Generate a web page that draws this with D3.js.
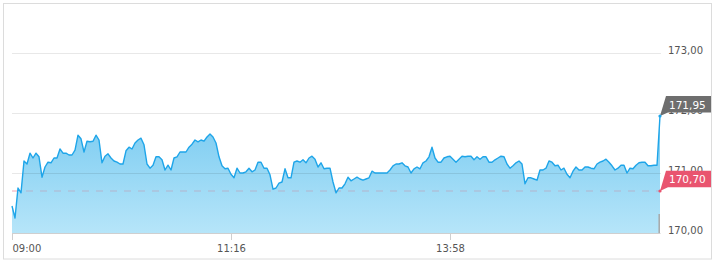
<!DOCTYPE html>
<html>
<head>
<meta charset="utf-8">
<script src="https://cdn.jsdelivr.net/npm/d3@7"></script>
<style>
  body { margin: 0; background: #fff; }
  text { font-family: "DejaVu Sans", Verdana, sans-serif; }
</style>
</head>
<body>
<div id="chart"></div>
<script>

// intraday prices, one reading per step from 09:00 to the close
var prices = [
  170.45, 170.25, 170.75, 170.67, 171.20, 171.15, 171.33, 171.25, 171.33, 171.27,
  170.93, 171.10, 171.18, 171.17, 171.25, 171.25, 171.40, 171.33, 171.33, 171.30,
  171.30, 171.38, 171.63, 171.57, 171.35, 171.53, 171.52, 171.53, 171.63, 171.55,
  171.17, 171.28, 171.32, 171.25, 171.20, 171.18, 171.15, 171.15, 171.37, 171.43,
  171.40, 171.50, 171.55, 171.58, 171.47, 171.15, 171.08, 171.13, 171.27, 171.27,
  171.22, 171.05, 171.13, 171.05, 171.25, 171.27, 171.35, 171.35, 171.35, 171.43,
  171.48, 171.55, 171.52, 171.55, 171.53, 171.60, 171.65, 171.60, 171.50, 171.27,
  171.12, 171.07, 171.08, 170.98, 170.92, 171.08, 171.00, 171.00, 171.02, 171.08,
  171.02, 171.05, 171.18, 171.18, 171.08, 171.08, 170.97, 170.73, 170.75, 170.83,
  170.85, 171.07, 170.92, 170.92, 171.18, 171.20, 171.18, 171.22, 171.17, 171.25,
  171.28, 171.23, 171.10, 171.17, 171.07, 171.08, 171.08, 170.85, 170.67, 170.75,
  170.75, 170.82, 170.93, 170.87, 170.90, 170.93, 170.90, 170.88, 170.90, 170.92,
  171.03, 171.00, 171.00, 171.00, 171.00, 171.00, 171.05, 171.12, 171.15, 171.15,
  171.17, 171.12, 171.10, 171.00, 171.07, 171.10, 171.07, 171.17, 171.20, 171.27,
  171.43, 171.25, 171.18, 171.18, 171.25, 171.27, 171.28, 171.23, 171.18, 171.23,
  171.28, 171.27, 171.28, 171.28, 171.22, 171.27, 171.23, 171.27, 171.27, 171.18,
  171.18, 171.22, 171.25, 171.28, 171.27, 171.15, 171.08, 171.12, 171.17, 171.20,
  171.15, 170.82, 170.92, 170.92, 170.90, 170.88, 171.05, 171.05, 171.08, 171.20,
  171.18, 171.12, 171.13, 171.05, 171.08, 170.98, 170.92, 171.03, 171.10, 171.05,
  171.05, 171.10, 171.10, 171.08, 171.07, 171.15, 171.18, 171.20, 171.23, 171.18,
  171.12, 171.05, 171.08, 171.13, 171.13, 171.00, 171.08, 171.07, 171.13, 171.17,
  171.18, 171.18, 171.12, 171.12, 171.13, 171.13, 171.95
];

var prevClose = 170.70;
var lastPrice = 171.95;

var priceTicks = [170, 171, 172, 173];
var timeTickIndex = [0, 73, 146];
var timeTickLabels = ["09:00", "11:16", "13:58"];

var width = 716, height = 260;
var plot = {left: 12, right: 660, top: 53, bottom: 233};

var fmt = d3.formatLocale({decimal: ",", thousands: ".", grouping: [3], currency: ["", "€"]}).format(".2f");

var svg = d3.select("#chart").append("svg")
    .attr("width", width)
    .attr("height", height);

// frame
svg.append("rect")
    .attr("x", 3.5).attr("y", 3.5)
    .attr("width", 708).attr("height", 255.5)
    .attr("fill", "none")
    .attr("stroke", "#dcdcdc");

var x = d3.scaleLinear()
    .domain([0, prices.length - 1])
    .range([plot.left, plot.right]);

var y = d3.scaleLinear()
    .domain([170, 173])
    .range([plot.bottom, plot.top]);

var defs = svg.append("defs");
var grad = defs.append("linearGradient")
    .attr("id", "fillGrad")
    .attr("gradientUnits", "userSpaceOnUse")
    .attr("x1", 0).attr("x2", 0)
    .attr("y1", y(171.65)).attr("y2", y(170));
grad.append("stop").attr("offset", "0%").attr("stop-color", "#83cff2");
grad.append("stop").attr("offset", "100%").attr("stop-color", "#b6e5f9");

// area + line
var area = d3.area()
    .x(function(d, i){ return x(i); })
    .y0(y(170))
    .y1(function(d){ return y(d); });

var line = d3.line()
    .x(function(d, i){ return x(i); })
    .y(function(d){ return y(d); });

svg.append("path")
    .datum(prices)
    .attr("d", area)
    .attr("fill", "url(#fillGrad)");

// horizontal grid, drawn over the fill
svg.append("g").attr("class", "grid")
    .selectAll("line")
    .data(priceTicks.slice(1))
    .enter()
    .append("line")
    .attr("x1", plot.left)
    .attr("x2", plot.right + 1)
    .attr("y1", function(d){ return Math.round(y(d)) + 0.5; })
    .attr("y2", function(d){ return Math.round(y(d)) + 0.5; })
    .attr("stroke", "rgba(0,0,0,0.09)");

// previous close
svg.append("line")
    .attr("x1", plot.left + 14).attr("x2", plot.right)
    .attr("y1", y(prevClose)).attr("y2", y(prevClose))
    .attr("stroke", "#b3b3cc")
    .attr("stroke-width", 1.2)
    .attr("stroke-dasharray", "7,7");
svg.append("line")
    .attr("x1", plot.left).attr("x2", plot.left + 6)
    .attr("y1", y(prevClose)).attr("y2", y(prevClose))
    .attr("stroke", "#f3b5c2")
    .attr("stroke-width", 1.2);

svg.append("path")
    .datum(prices)
    .attr("d", line)
    .attr("fill", "none")
    .attr("stroke", "#1ea5e9")
    .attr("stroke-width", 1.4)
    .attr("stroke-linejoin", "round");

// last volume tick
svg.append("line")
    .attr("x1", plot.right - 0.8).attr("x2", plot.right - 0.8)
    .attr("y1", y(170) - 19).attr("y2", y(170))
    .attr("stroke", "#a8a8a8")
    .attr("stroke-width", 1.5);

// x axis
var xAxis = d3.axisBottom(x)
    .tickValues(timeTickIndex)
    .tickFormat(function(d, i){ return timeTickLabels[i]; })
    .tickSize(7)
    .tickSizeOuter(0);

var gx = svg.append("g")
    .attr("transform", "translate(0," + plot.bottom + ")")
    .call(xAxis);
gx.select(".domain").attr("stroke", "#cfcfcf");
gx.selectAll(".tick line").attr("stroke", "#cfcfcf");
gx.selectAll(".tick text")
    .attr("fill", "#555")
    .attr("y", 12)
    .style("font-size", "10px")
    .style("font-family", "'DejaVu Sans', Verdana, sans-serif")
    .attr("text-anchor", function(d, i){ return i == 0 ? "start" : "middle"; });

// y labels on the right, baseline on the grid line
svg.append("g").attr("class", "ylabels")
    .selectAll("text")
    .data(priceTicks)
    .enter()
    .append("text")
    .attr("x", 668)
    .attr("y", function(d){ return y(d); })
    .attr("dy", "0.1em")
    .attr("fill", "#555")
    .style("font-size", "10px")
    .text(function(d){ return fmt(d); });

// badges
function badge(value, color, top){
    var px = x(prices.length - 1), py = y(value);
    var g = svg.append("g");
    g.append("path")
        .attr("d", "M" + px + "," + py +
                   "L" + (px + 6) + "," + top +
                   "L711," + top +
                   "L711," + (top + 16.5) +
                   "L" + (px + 8) + "," + (top + 16.5) + "Z")
        .attr("fill", color);
    g.append("circle")
        .attr("cx", px).attr("cy", py).attr("r", 1.6)
        .attr("fill", color == "#6e6e6e" ? "#1ea5e9" : color);
    g.append("text")
        .attr("x", 669)
        .attr("y", top + 12.5)
        .attr("fill", "#fff")
        .style("font-size", "10.5px")
        .text(fmt(value));
}
badge(lastPrice, "#6e6e6e", 96);
badge(prevClose, "#e9546f", 170.7);

</script>
</body>
</html>
